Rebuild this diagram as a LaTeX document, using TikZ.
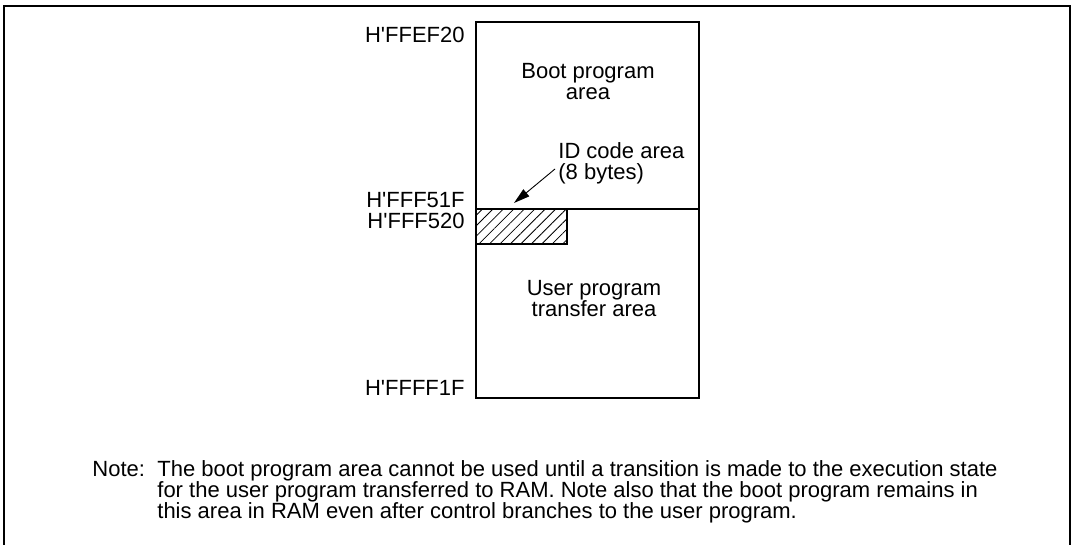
\documentclass[tikz,border=0pt]{standalone}
\usepackage{fontspec}
\setmainfont{Liberation Sans}
\usetikzlibrary{arrows.meta, patterns.meta, positioning}
\tikzset{
  frameline/.style={line width=1pt},
  memline/.style={line width=0.6pt},
  addr/.style={anchor=base east, inner sep=0pt},
  areatext/.style={align=center, inner sep=0pt, anchor=base},
  idhatch/.style={memline, pattern={Lines[angle=45, distance=3.7pt, line width=0.4pt]}},
  arrow/.style={-{Triangle[length=8pt, width=4.5pt]}, line width=0.45pt},
}
\newcommand{\hq}{\textquotesingle}

\begin{document}
\begin{tikzpicture}[x=0.5pt, y=-0.5pt, font=\fontsize{11}{10.6}\selectfont]
  \useasboundingbox (0,0) rectangle (1073,545);

  % Outer frame (open at the bottom)
  \draw[frameline] (4,545) -- (4,6) -- (1070,6) -- (1070,545);

  % Memory areas
  \draw[memline] (476,22) rectangle (699,209);
  \draw[memline] (476,209) rectangle (699,398);
  \draw[idhatch] (476,209) rectangle (567,244);
  \coordinate (idtip) at (514,203);

  % Addresses
  \foreach \y/\name in {43/FFEF20, 208/FFF51F, 229/FFF520, 396/FFFF1F} {
    \node[addr] (a-\name) at (465,\y) {H\hq\name};
  }

  % Area texts (anchored at the baseline of the last line)
  \node[areatext] (boot) at (588,100) {Boot program\\area};
  \node[areatext] (user) at (594,317) {User program\\transfer area};
  \node[areatext, align=left, anchor=base west] (idcode) at (558,180) {ID code area\\(8 bytes)};

  % Arrow
  \draw[arrow] (555,169) -- (idtip);

  % Note
  \node[anchor=base west, inner sep=0pt] (notehead) at (92,477) {Note:};
  \node[anchor=base west, inner sep=0pt, align=left] (notebody) at (157,519)
    {The boot program area cannot be used until a transition is made to the execution state\\
     for the user program transferred to RAM. Note also that the boot program remains in\\
     this area in RAM even after control branches to the user program.};
\end{tikzpicture}
\end{document}
